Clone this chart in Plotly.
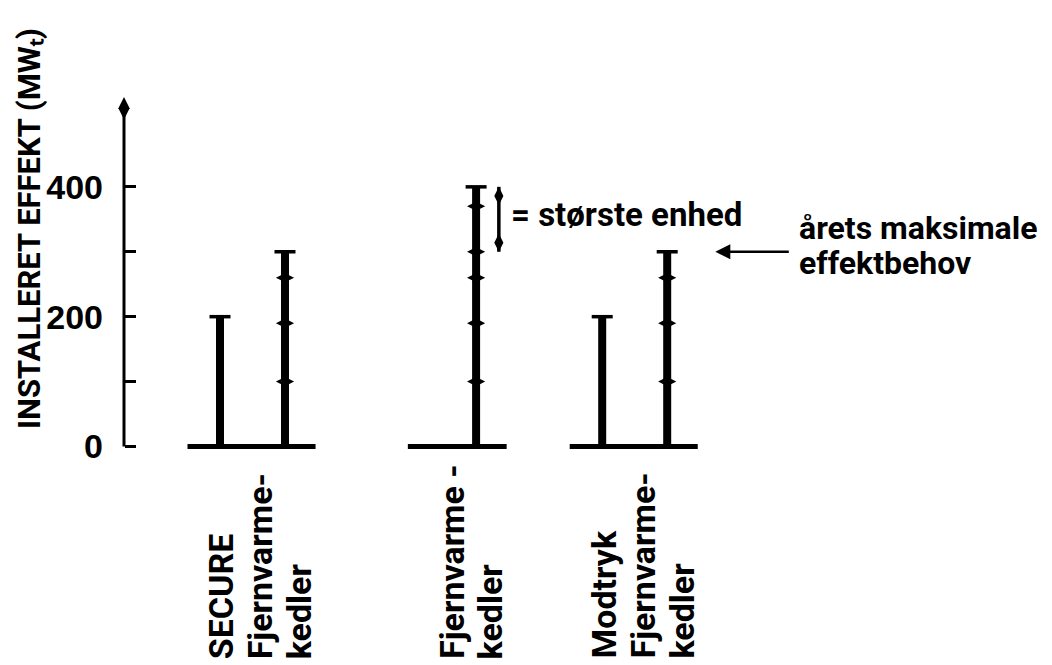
import plotly.graph_objects as go

# ---- data ----
group_labels = [["SECURE", "Fjernvarme-", "kedler"],
                ["Fjernvarme -", "kedler"],
                ["Modtryk", "Fjernvarme-", "kedler"]]
first_bar = [200, None, 200]                    # SECURE / (none) / Modtryk
boiler_units = [[100, 190, 260, 300],           # cumulative unit boundaries (MW)
                [100, 190, 260, 300, 370, 400],
                [100, 190, 260, 300]]
yticks = [0, 100, 200, 300, 400]
ytick_text = ["0", "", "200", "", "400"]
largest_unit = [300, 400]
max_demand = 300
axis_top = 537
y_title = "INSTALLERET EFFEKT (MWₜ)"
legend_unit = "= største enhed"
demand_lines = ["årets maksimale", "effektbehov"]

NARROW = "Liberation Sans Narrow, Arial Narrow, Liberation Sans, sans-serif"
FONT = "Roboto, Liberation Sans, Arial, sans-serif"
BLACK = "#000000"

W, H = 1044, 657          # page body has an 8px margin
ML, MT, MB = 0, 62, 212
PLOT_H = H - MT - MB
GROUP_STEP = 2.94
X_RANGE = [-212 / 65, (W - 212) / 65]
AXIS_X = (116 - 212) / 65


def paper_y(fig_px):
    return (H - MB - fig_px) / PLOT_H


fig = go.Figure()

for g in range(3):
    s1 = g * GROUP_STEP
    s2 = s1 + 1
    left = s1 - 0.5 if first_bar[g] is not None else s2 - 1.05
    # baseline
    fig.add_trace(go.Scatter(x=[left, s2 + 0.47], y=[0, 0], mode="lines",
                             line=dict(color=BLACK, width=5), hoverinfo="skip"))
    # first bar
    if first_bar[g] is not None:
        fig.add_trace(go.Scatter(x=[s1, s1], y=[0, first_bar[g]], mode="lines",
                                 line=dict(color=BLACK, width=8), hoverinfo="skip"))
        fig.add_trace(go.Scatter(x=[s1], y=[first_bar[g]], mode="markers",
                                 marker=dict(symbol="line-ew", size=15,
                                             line=dict(color=BLACK, width=3.5)),
                                 hoverinfo="skip"))
    # boiler stack
    units = boiler_units[g]
    fig.add_trace(go.Scatter(x=[s2, s2], y=[0, units[-1]], mode="lines",
                             line=dict(color=BLACK, width=8), hoverinfo="skip"))
    fig.add_trace(go.Scatter(x=[s2] * (len(units) - 1), y=units[:-1], mode="markers",
                             marker=dict(symbol="diamond-wide", size=13, color=BLACK,
                                         line=dict(width=0)),
                             hoverinfo="skip"))
    fig.add_trace(go.Scatter(x=[s2], y=[units[-1]], mode="markers",
                             marker=dict(symbol="line-ew", size=15,
                                         line=dict(color=BLACK, width=3.5)),
                             hoverinfo="skip"))
    # category label (one rotated annotation per line, bottom aligned)
    lines = group_labels[g]
    n = len(lines)
    for i, txt in enumerate(lines):
        fig.add_annotation(x=s2 + 0.22 - (n - 1 - i) * 0.6, y=paper_y(652),
                           xref="x", yref="paper", text=txt, textangle=-90,
                           showarrow=False, xanchor="center", yanchor="bottom",
                           borderpad=0,
                           font=dict(family=FONT, size=34, color=BLACK, weight="bold"))

# y axis line with arrow
fig.add_trace(go.Scatter(x=[AXIS_X, AXIS_X], y=[0, axis_top - 20], mode="lines",
                         line=dict(color=BLACK, width=3), hoverinfo="skip"))
fig.add_trace(go.Scatter(x=[AXIS_X], y=[axis_top - 16], mode="markers",
                         marker=dict(symbol="diamond-tall", size=16, color=BLACK),
                         hoverinfo="skip", cliponaxis=False))

# y axis title
fig.add_annotation(x=21 / W, y=paper_y(221), xref="paper", yref="paper",
                   text=y_title, textangle=-90, showarrow=False,
                   xanchor="center", yanchor="middle", borderpad=0,
                   font=dict(family=FONT, size=31, color=BLACK, weight="bold"))

# "største enhed" bracket
bx = 1 + GROUP_STEP + 0.35
fig.add_trace(go.Scatter(x=[bx, bx], y=largest_unit, mode="lines",
                         line=dict(color=BLACK, width=3.5), hoverinfo="skip"))
fig.add_trace(go.Scatter(x=[bx, bx], y=[largest_unit[0] + 14, largest_unit[1] - 14],
                         mode="markers",
                         marker=dict(symbol="diamond-tall", size=13, color=BLACK),
                         hoverinfo="skip"))
fig.add_annotation(x=bx + 0.16, y=358, xref="x", yref="y", text=legend_unit,
                   showarrow=False, xanchor="left", yanchor="middle",
                   font=dict(family=FONT, size=33, color=BLACK, weight="bold"))

# max demand arrow
fig.add_annotation(x=2 * GROUP_STEP + 1 + 0.74, y=max_demand, xref="x", yref="y",
                   ax=75, ay=0, text="", showarrow=True, arrowhead=2, arrowsize=1.2,
                   arrowwidth=2.5, arrowcolor=BLACK)
for txt, yv in zip(demand_lines, [336, 282]):
    fig.add_annotation(x=8.89, y=yv, xref="x", yref="y", text=txt,
                       showarrow=False, xanchor="left", yanchor="middle", borderpad=0,
                       font=dict(family=FONT, size=32, color=BLACK, weight="bold"))

fig.update_layout(
    width=W, height=H,
    margin=dict(l=ML, r=0, t=MT, b=MB),
    plot_bgcolor="white", paper_bgcolor="white",
    showlegend=False,
    xaxis=dict(range=X_RANGE, visible=False, fixedrange=True),
    yaxis=dict(range=[-10, 580], anchor="free", position=116 / W, side="left",
               tickmode="array", tickvals=yticks, ticktext=ytick_text,
               ticks="inside", ticklen=11, tickwidth=2.5, tickcolor=BLACK,
               showline=False, showgrid=False, zeroline=False,
               ticklabelstandoff=21, fixedrange=True,
               tickfont=dict(family=NARROW, size=34, color=BLACK, weight="bold")),
)

fig.write_html("out.html")
